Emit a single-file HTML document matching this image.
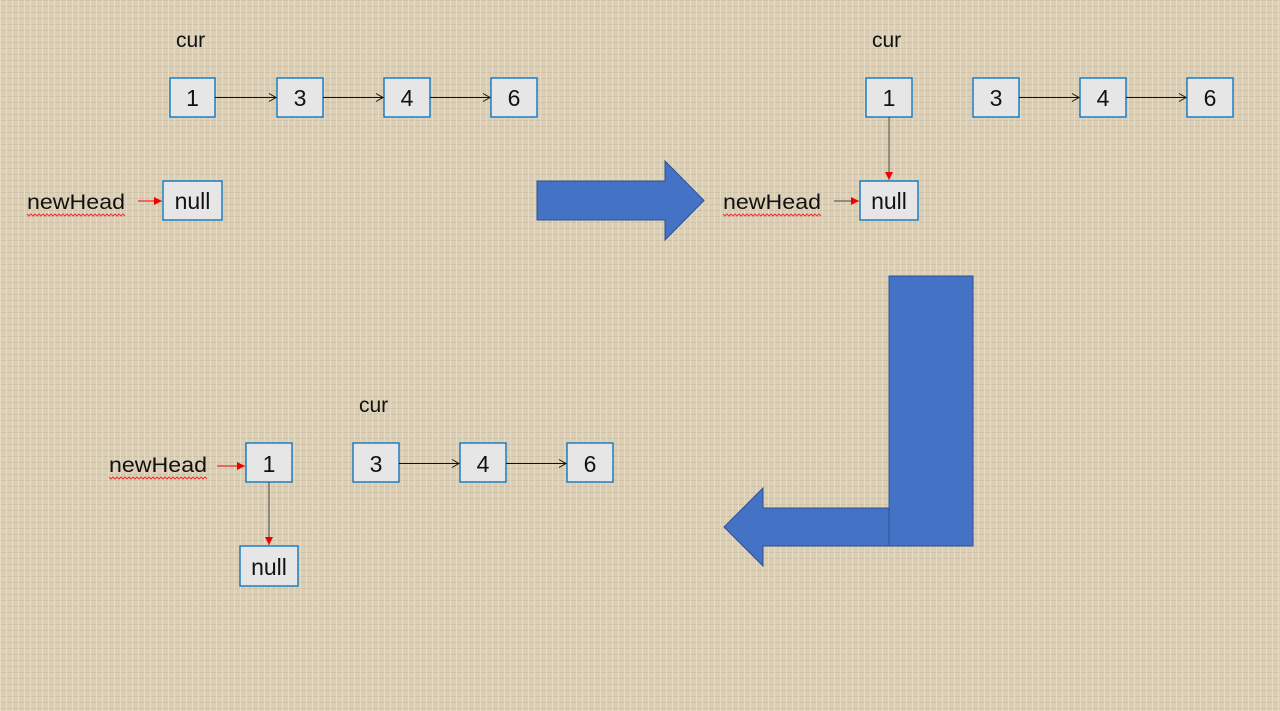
<!DOCTYPE html>
<html><head><style>
html,body{margin:0;padding:0;width:1280px;height:711px;overflow:hidden;background:#dccfb5;}
svg{display:block}
text{font-family:"Liberation Sans",sans-serif;fill:#111;}
</style></head><body>
<svg width="1280" height="711" viewBox="0 0 1280 711">
<defs>
<pattern id="tx" width="6" height="6" patternUnits="userSpaceOnUse">
<rect width="6" height="6" fill="#dccfb5"/>
<rect width="6" height="1" fill="#cfc1a5"/>
<rect width="1" height="6" fill="#e6dcc6"/>
</pattern>
<marker id="ab" markerWidth="10" markerHeight="10" refX="8" refY="5" orient="auto" markerUnits="userSpaceOnUse"><path d="M1,1 L8,5 L1,9" fill="none" stroke="#111" stroke-width="1"/></marker>
<marker id="ar" markerWidth="10" markerHeight="10" refX="8" refY="5" orient="auto" markerUnits="userSpaceOnUse"><path d="M0,1 L8,5 L0,9Z" fill="#e00"/></marker>
</defs>
<rect width="1280" height="711" fill="url(#tx)"/>
<g fill="#e6e6e6" stroke="#0070c0" stroke-width="1.3">
<rect x="170" y="78" width="45" height="39"/><rect x="277" y="78" width="46" height="39"/><rect x="384" y="78" width="46" height="39"/><rect x="491" y="78" width="46" height="39"/>
<rect x="163" y="181" width="59" height="39"/>
<rect x="866" y="78" width="46" height="39"/><rect x="973" y="78" width="46" height="39"/><rect x="1080" y="78" width="46" height="39"/><rect x="1187" y="78" width="46" height="39"/>
<rect x="860" y="181" width="58" height="39"/>
<rect x="246" y="443" width="46" height="39"/><rect x="353" y="443" width="46" height="39"/><rect x="460" y="443" width="46" height="39"/><rect x="567" y="443" width="46" height="39"/>
<rect x="240" y="546" width="58" height="40"/>
</g>
<g stroke="#111" stroke-width="1" marker-end="url(#ab)">
<line x1="215" y1="97.5" x2="276" y2="97.5"/><line x1="323" y1="97.5" x2="383" y2="97.5"/><line x1="430" y1="97.5" x2="490" y2="97.5"/>
<line x1="1019" y1="97.5" x2="1079" y2="97.5"/><line x1="1126" y1="97.5" x2="1186" y2="97.5"/>
<line x1="399" y1="463.5" x2="459" y2="463.5"/><line x1="506" y1="463.5" x2="566" y2="463.5"/>
</g>
<g stroke-width="1">
<line x1="138" y1="201" x2="162" y2="201" stroke="#e00" marker-end="url(#ar)"/>
<line x1="834" y1="201" x2="859" y2="201" stroke="#444" marker-end="url(#ar)"/>
<line x1="889" y1="117" x2="889" y2="180" stroke="#444" marker-end="url(#ar)"/>
<line x1="217" y1="466" x2="245" y2="466" stroke="#e00" marker-end="url(#ar)"/>
<line x1="269" y1="482" x2="269" y2="545" stroke="#444" marker-end="url(#ar)"/>
</g>
<g font-size="23" text-anchor="middle">
<text x="192.5" y="106">1</text><text x="300" y="106">3</text><text x="407" y="106">4</text><text x="514" y="106">6</text>
<text x="192.5" y="209">null</text>
<text x="889" y="106">1</text><text x="996" y="106">3</text><text x="1103" y="106">4</text><text x="1210" y="106">6</text>
<text x="889" y="209">null</text>
<text x="269" y="472">1</text><text x="376" y="472">3</text><text x="483" y="472">4</text><text x="590" y="472">6</text>
<text x="269" y="575">null</text>
</g>
<g font-size="21">
<text x="176" y="47">cur</text><text x="872" y="47">cur</text><text x="359" y="412">cur</text>
<text x="27" y="209" textLength="98" lengthAdjust="spacingAndGlyphs">newHead</text><text x="723" y="209" textLength="98" lengthAdjust="spacingAndGlyphs">newHead</text><text x="109" y="472" textLength="98" lengthAdjust="spacingAndGlyphs">newHead</text>
</g>
<g stroke="#e33" stroke-width="1" fill="none">
<path d="M27,214 l2,2 l2,-2 l2,2 l2,-2 l2,2 l2,-2 l2,2 l2,-2 l2,2 l2,-2 l2,2 l2,-2 l2,2 l2,-2 l2,2 l2,-2 l2,2 l2,-2 l2,2 l2,-2 l2,2 l2,-2 l2,2 l2,-2 l2,2 l2,-2 l2,2 l2,-2 l2,2 l2,-2 l2,2 l2,-2 l2,2 l2,-2 l2,2 l2,-2 l2,2 l2,-2 l2,2 l2,-2 l2,2 l2,-2 l2,2 l2,-2 l2,2 l2,-2 l2,2 l2,-2 l2,2"/>
<path d="M723,214 l2,2 l2,-2 l2,2 l2,-2 l2,2 l2,-2 l2,2 l2,-2 l2,2 l2,-2 l2,2 l2,-2 l2,2 l2,-2 l2,2 l2,-2 l2,2 l2,-2 l2,2 l2,-2 l2,2 l2,-2 l2,2 l2,-2 l2,2 l2,-2 l2,2 l2,-2 l2,2 l2,-2 l2,2 l2,-2 l2,2 l2,-2 l2,2 l2,-2 l2,2 l2,-2 l2,2 l2,-2 l2,2 l2,-2 l2,2 l2,-2 l2,2 l2,-2 l2,2 l2,-2 l2,2"/>
<path d="M109,477 l2,2 l2,-2 l2,2 l2,-2 l2,2 l2,-2 l2,2 l2,-2 l2,2 l2,-2 l2,2 l2,-2 l2,2 l2,-2 l2,2 l2,-2 l2,2 l2,-2 l2,2 l2,-2 l2,2 l2,-2 l2,2 l2,-2 l2,2 l2,-2 l2,2 l2,-2 l2,2 l2,-2 l2,2 l2,-2 l2,2 l2,-2 l2,2 l2,-2 l2,2 l2,-2 l2,2 l2,-2 l2,2 l2,-2 l2,2 l2,-2 l2,2 l2,-2 l2,2 l2,-2 l2,2"/>
</g>
<g fill="#4472c4" stroke="#2f528f" stroke-width="1">
<path d="M537,181 L665,181 L665,161 L704,200.5 L665,240 L665,220 L537,220Z"/>
<path d="M889,508 L763,508 L763,488 L724,527 L763,566 L763,546 L889,546Z"/>
<rect x="889" y="276" width="84" height="270"/>
</g>
</svg>
</body></html>
